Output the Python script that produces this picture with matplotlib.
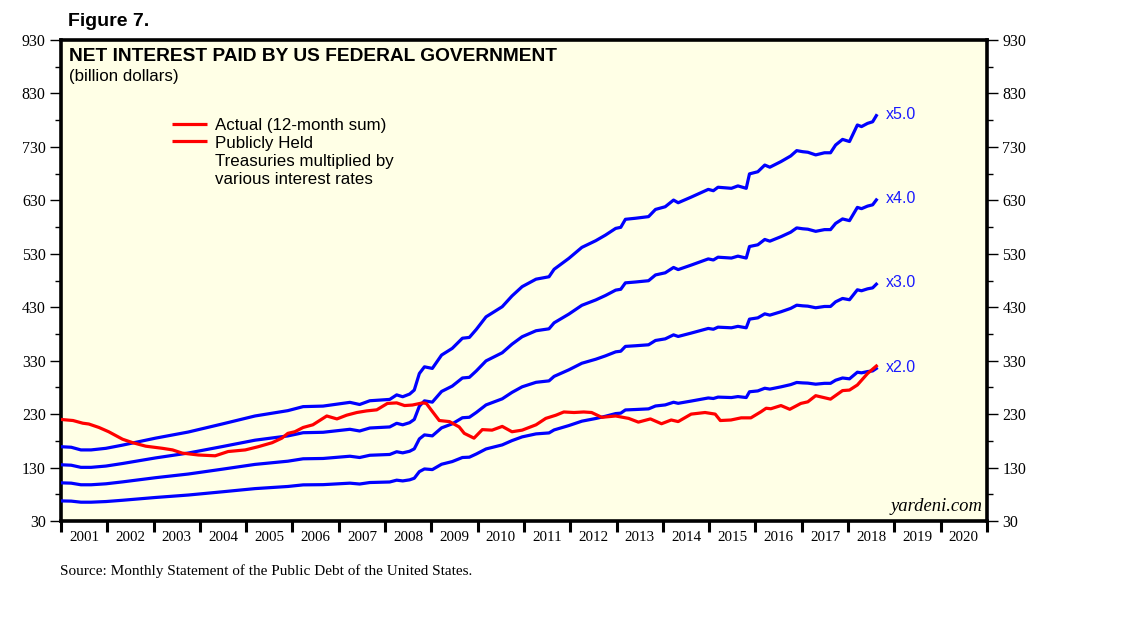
import matplotlib.pyplot as plt
import numpy as np

# Net interest paid, 12-month sum (billion dollars)
actual_dates = [2001.00, 2001.26, 2001.47, 2001.60, 2001.82, 2002.03, 2002.33, 2002.55, 2002.83,
                2003.19, 2003.41, 2003.62, 2003.97, 2004.33, 2004.61, 2004.98, 2005.26, 2005.56,
                2005.77, 2005.90, 2006.05, 2006.23, 2006.44, 2006.74, 2006.96, 2007.17, 2007.39,
                2007.60, 2007.82, 2008.05, 2008.25, 2008.42, 2008.59, 2008.81, 2008.89, 2009.02,
                2009.17, 2009.39, 2009.60, 2009.71, 2009.92, 2010.10, 2010.31, 2010.53, 2010.74,
                2010.96, 2011.26, 2011.47, 2011.69, 2011.86, 2012.08, 2012.29, 2012.46, 2012.68,
                2012.98, 2013.26, 2013.47, 2013.73, 2013.97, 2014.18, 2014.33, 2014.61, 2014.91,
                2015.13, 2015.24, 2015.47, 2015.69, 2015.90, 2016.12, 2016.23, 2016.33, 2016.55,
                2016.74, 2016.98, 2017.13, 2017.30, 2017.62, 2017.88, 2018.03, 2018.20, 2018.42,
                2018.61]
actual_interest = [220, 218, 213, 211.5, 205, 197, 183, 176.5, 170,
                   166, 163, 157, 153.5, 152, 160, 163, 169, 176.5,
                   185, 194, 197, 205, 210, 226.5, 221, 228, 233,
                   236, 238, 250, 251, 246, 247, 251, 250, 235,
                   218, 216, 206, 194, 185, 201, 200, 207, 197,
                   200, 210, 222, 228, 234, 233, 234, 233, 224,
                   226.5, 222, 215, 221, 212, 219, 216, 230, 233,
                   230, 218, 219, 223, 223, 234.5, 241, 240, 246,
                   239, 250, 253, 264.5, 258, 274, 275, 284.5, 306,
                   320]

# Publicly held Treasuries (trillion dollars)
debt_dates = [2001.00, 2001.22, 2001.43, 2001.65, 2001.97, 2002.33, 2003.04, 2003.75, 2004.48,
              2005.19, 2005.90, 2006.23, 2006.66, 2007.24, 2007.45, 2007.67, 2008.10, 2008.25,
              2008.38, 2008.53, 2008.63, 2008.74, 2008.85, 2009.02, 2009.22, 2009.45, 2009.67,
              2009.82, 2009.97, 2010.18, 2010.53, 2010.74, 2010.96, 2011.26, 2011.54, 2011.65,
              2011.97, 2012.25, 2012.55, 2012.76, 2012.98, 2013.09, 2013.19, 2013.41, 2013.69,
              2013.84, 2014.05, 2014.23, 2014.33, 2014.61, 2014.98, 2015.09, 2015.19, 2015.48,
              2015.62, 2015.80, 2015.87, 2016.05, 2016.20, 2016.31, 2016.55, 2016.76, 2016.89,
              2017.02, 2017.13, 2017.30, 2017.49, 2017.62, 2017.73, 2017.88, 2018.03, 2018.20,
              2018.29, 2018.42, 2018.53, 2018.61]
public_debt = [3.38, 3.36, 3.26, 3.26, 3.32, 3.44, 3.70, 3.93, 4.23,
               4.53, 4.73, 4.88, 4.90, 5.04, 4.96, 5.10, 5.15, 5.32,
               5.25, 5.35, 5.50, 6.12, 6.37, 6.31, 6.81, 7.06, 7.44,
               7.47, 7.77, 8.24, 8.62, 9.02, 9.37, 9.65, 9.74, 10.02,
               10.43, 10.84, 11.09, 11.30, 11.55, 11.59, 11.89, 11.93, 11.99,
               12.26, 12.36, 12.61, 12.51, 12.72, 13.01, 12.96, 13.09, 13.05,
               13.14, 13.05, 13.59, 13.67, 13.92, 13.84, 14.05, 14.26, 14.46,
               14.42, 14.40, 14.30, 14.38, 14.38, 14.67, 14.88, 14.80, 15.42,
               15.36, 15.48, 15.54, 15.77]
rates = [2.0, 3.0, 4.0, 5.0]  # percent

years = list(range(2001, 2021))
y_ticks = list(range(30, 931, 100))

SANS = 'Liberation Sans'
SERIF = 'Liberation Serif'
RED = '#ff0000'
BLUE = '#0000ff'

fig = plt.figure(figsize=(11.38, 6.21), dpi=100)
ax = fig.add_axes([61 / 1138, 1 - 521 / 621, 926 / 1138, 481 / 621])
ax.set_facecolor('#ffffe6')

# publicly held treasuries times each rate
debt = np.array(public_debt)
for r in rates:
    vals = debt * 10 * r
    ax.plot(debt_dates, vals, color=BLUE, lw=2.3, zorder=3)
    ax.annotate(f'x{r:.1f}', xy=(debt_dates[-1], vals[-1]), xytext=(7, 1),
                textcoords='offset points', va='center', ha='left',
                color='#1a1aff', fontsize=11.5, family=SANS)

ax.plot(actual_dates, actual_interest, color=RED, lw=2.3, zorder=4)

ax.set_xlim(2001, 2021)
ax.set_ylim(30, 930)

# y axis on both sides
ax.set_yticks(y_ticks)
ax.set_yticks([v + 50 for v in y_ticks[:-1]], minor=True)
ax.tick_params(axis='y', which='major', direction='out', length=8, width=1,
               left=True, right=True, labelleft=True, labelright=True,
               labelsize=11.5, pad=3)
ax.tick_params(axis='y', which='minor', direction='out', length=4.5, width=1,
               left=True, right=True)
for lab in ax.get_yticklabels():
    lab.set_family(SERIF)

# x axis: ticks at year boundaries, labels in the middle of each year
ax.set_xticks(years + [2021])
ax.set_xticklabels([])
ax.set_xticks([y + 0.5 for y in years], minor=True)
ax.set_xticklabels([str(y) for y in years], minor=True, family=SERIF, fontsize=10.8)
ax.tick_params(axis='x', which='major', direction='out', length=8, width=2.2)
ax.tick_params(axis='x', which='minor', length=0, pad=7)

for s in ax.spines.values():
    s.set_linewidth(2.6)

# titles
ax.text(0.009, 0.984, 'NET INTEREST PAID BY US FEDERAL GOVERNMENT', transform=ax.transAxes,
        fontsize=13.8, fontweight='bold', family=SANS, va='top', ha='left')
ax.text(0.009, 0.940, '(billion dollars)', transform=ax.transAxes,
        fontsize=12.2, family=SANS, va='top', ha='left')
fig.text(68 / 1138, 1 - 22 / 621, 'Figure 7.', fontsize=14, fontweight='bold',
         family=SANS, va='center', ha='left')

# legend (both keys are red in the original)
leg_lines = ['Actual (12-month sum)', 'Publicly Held', 'Treasuries multiplied by',
             'various interest rates']
for i, txt in enumerate(leg_lines):
    ax.text(0.1663, 0.8214 - i * 0.0374, txt, transform=ax.transAxes,
            fontsize=12.2, family=SANS, va='center', ha='left')
for i in range(2):
    ax.plot([0.1199, 0.1577], [0.8254 - i * 0.0360] * 2, transform=ax.transAxes,
            color=RED, lw=2.3, solid_capstyle='butt')

ax.text(0.995, 0.012, 'yardeni.com', transform=ax.transAxes, fontsize=13.4,
        style='italic', family=SERIF, ha='right', va='bottom')

fig.text(60 / 1138, 1 - 571 / 621, 'Source: Monthly Statement of the Public Debt of the United States.',
         fontsize=11, family=SERIF, va='center', ha='left')

fig.savefig('out.png', dpi=100, facecolor='white')
